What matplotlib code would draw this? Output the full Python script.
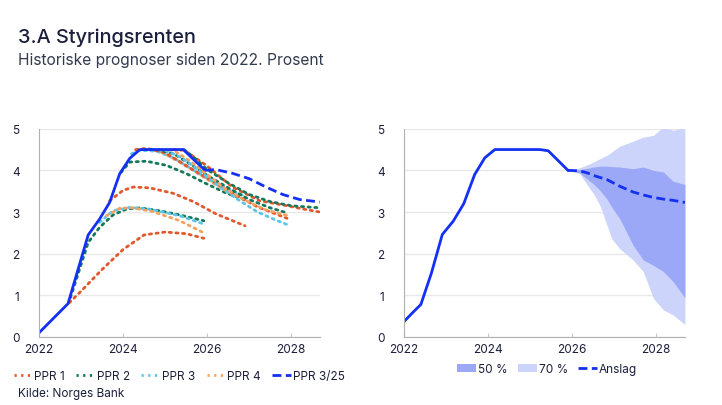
import numpy as np
import matplotlib
matplotlib.use('Agg')
import matplotlib.pyplot as plt
from matplotlib.lines import Line2D
from matplotlib.patches import Patch

plt.rcParams['font.family'] = ['Inter', 'DejaVu Sans']

# Farger
BLUE = '#1430f2'
RED = '#e2572b'
GREEN = '#14785a'
CYAN = '#5cc6ea'
ORANGE = '#f4a262'
C50 = '#9aa8f7'
C70 = '#cdd4fb'
TXT = '#1b1f3b'

# Venstre panel: historisk styringsrente (PPR 3/25)
hist_x = [2022.0, 2022.69, 2023.17, 2023.44, 2023.68, 2023.92, 2024.16, 2024.4, 2025.43, 2025.95]
hist_y = [0.10, 0.80, 2.45, 2.83, 3.23, 3.92, 4.29, 4.50, 4.50, 4.00]
ppr325_x = [2025.95, 2026.2, 2026.6, 2027.0, 2027.4, 2027.8, 2028.2, 2028.68]
ppr325_y = [4.00, 4.02, 3.93, 3.80, 3.60, 3.42, 3.30, 3.24]

# Tidligere prognoser (x, y)
ppr1_22_x = [2022.72, 2023.0, 2023.5, 2024.0, 2024.5, 2025.0, 2025.5, 2025.92]
ppr1_22_y = [0.82, 1.10, 1.62, 2.10, 2.45, 2.52, 2.48, 2.37]
ppr2_22_x = [2022.75, 2023.17, 2023.44, 2023.76, 2024.08, 2024.4, 2024.87, 2025.35, 2025.92]
ppr2_22_y = [0.95, 2.27, 2.63, 2.93, 3.07, 3.10, 3.03, 2.93, 2.79]
ppr3_22_x = [2023.44, 2023.76, 2024.16, 2024.63, 2025.35, 2025.92]
ppr3_22_y = [2.75, 3.03, 3.11, 3.07, 2.91, 2.71]
ppr4_22_x = [2023.6, 2023.92, 2024.24, 2024.71, 2025.35, 2025.9]
ppr4_22_y = [2.91, 3.09, 3.10, 3.01, 2.79, 2.51]
ppr1_23_x = [2023.68, 2024.0, 2024.24, 2024.63, 2025.19, 2025.67, 2026.22, 2026.9]
ppr1_23_y = [3.27, 3.52, 3.60, 3.58, 3.45, 3.25, 2.95, 2.67]
ppr2_23_x = [2023.95, 2024.16, 2024.56, 2025.03, 2025.51, 2025.98, 2026.46, 2026.9]
ppr2_23_y = [3.95, 4.20, 4.22, 4.12, 3.92, 3.68, 3.45, 3.30]
ppr3_23_x = [2024.2, 2024.4, 2024.8, 2025.2, 2025.6, 2026.0, 2026.5, 2026.9]
ppr3_23_y = [4.40, 4.48, 4.46, 4.30, 4.05, 3.80, 3.55, 3.38]
ppr4_23_x = [2024.3, 2024.5, 2024.9, 2025.3, 2025.7, 2026.1, 2026.5, 2026.9]
ppr4_23_y = [4.48, 4.53, 4.45, 4.22, 3.98, 3.72, 3.48, 3.28]
ppr1_24_x = [2024.3, 2024.6, 2025.0, 2025.4, 2025.8, 2026.2, 2026.7, 2027.2, 2027.9]
ppr1_24_y = [4.50, 4.52, 4.42, 4.18, 3.93, 3.70, 3.40, 3.12, 2.85]
ppr2_24_x = [2024.5, 2024.8, 2025.2, 2025.6, 2026.0, 2026.5, 2027.0, 2027.5, 2027.9]
ppr2_24_y = [4.50, 4.50, 4.40, 4.15, 3.88, 3.58, 3.30, 3.10, 2.98]
ppr3_24_x = [2024.7, 2025.0, 2025.4, 2025.8, 2026.2, 2026.7, 2027.2, 2027.6, 2027.9]
ppr3_24_y = [4.50, 4.48, 4.30, 4.00, 3.68, 3.32, 3.00, 2.82, 2.70]
ppr4_24_x = [2024.95, 2025.2, 2025.6, 2026.0, 2026.4, 2026.9, 2027.4, 2027.9]
ppr4_24_y = [4.50, 4.48, 4.22, 3.90, 3.58, 3.28, 3.05, 2.92]
ppr1_25_x = [2025.2, 2025.46, 2025.98, 2026.6, 2027.25, 2027.9, 2028.3, 2028.68]
ppr1_25_y = [4.50, 4.48, 4.12, 3.60, 3.27, 3.15, 3.07, 3.00]
ppr2_25_x = [2025.45, 2025.7, 2026.0, 2026.5, 2027.0, 2027.5, 2028.0, 2028.68]
ppr2_25_y = [4.50, 4.30, 4.02, 3.70, 3.42, 3.25, 3.15, 3.10]

prognoser = [
    (ppr1_22_x, ppr1_22_y, RED), (ppr2_22_x, ppr2_22_y, GREEN),
    (ppr3_22_x, ppr3_22_y, CYAN), (ppr4_22_x, ppr4_22_y, ORANGE),
    (ppr1_23_x, ppr1_23_y, RED), (ppr2_23_x, ppr2_23_y, GREEN),
    (ppr3_23_x, ppr3_23_y, CYAN), (ppr4_23_x, ppr4_23_y, ORANGE),
    (ppr1_24_x, ppr1_24_y, RED), (ppr2_24_x, ppr2_24_y, GREEN),
    (ppr3_24_x, ppr3_24_y, CYAN), (ppr4_24_x, ppr4_24_y, ORANGE),
    (ppr1_25_x, ppr1_25_y, RED), (ppr2_25_x, ppr2_25_y, GREEN),
]

# Høyre panel: kvartalsvis historikk, anslag og usikkerhetsvifte
q_hist_x = [2022.0, 2022.21, 2022.4, 2022.65, 2022.91, 2023.17, 2023.42, 2023.68, 2023.92, 2024.16, 2025.23, 2025.43, 2025.9]
q_hist_y = [0.37, 0.59, 0.78, 1.53, 2.46, 2.78, 3.20, 3.90, 4.30, 4.50, 4.50, 4.47, 4.00]
fan_x = [2025.9, 2026.18, 2026.42, 2026.5, 2026.66, 2026.82, 2026.94, 2027.13, 2027.45, 2027.69, 2027.93, 2028.17, 2028.4, 2028.68]
anslag_y = [4.00, 3.99, 3.92, 3.88, 3.83, 3.78, 3.72, 3.62, 3.48, 3.41, 3.35, 3.31, 3.28, 3.23]
p70_hi = [4.00, 4.06, 4.16, 4.20, 4.28, 4.36, 4.44, 4.58, 4.70, 4.80, 4.84, 5.05, 4.96, 5.05]
p70_lo = [4.00, 3.92, 3.56, 3.45, 3.16, 2.70, 2.36, 2.12, 1.85, 1.57, 0.93, 0.65, 0.53, 0.30]
p50_hi = [4.00, 4.02, 4.06, 4.08, 4.10, 4.10, 4.09, 4.08, 4.04, 4.08, 4.00, 3.96, 3.74, 3.66]
p50_lo = [4.00, 3.94, 3.74, 3.68, 3.52, 3.32, 3.12, 2.84, 2.20, 1.85, 1.72, 1.57, 1.33, 0.94]

xticks = [2022, 2024, 2026, 2028]
yticks = [0, 1, 2, 3, 4, 5]

fig = plt.figure(figsize=(7.22, 4.06), dpi=100)
ax1 = fig.add_axes([0.054, 0.1675, 0.389, 0.513])
ax2 = fig.add_axes([0.5596, 0.1675, 0.389, 0.513])

dot = (0, (0.8, 1.6))
dash = (0, (3.2, 1.6))

for x, y, c in prognoser:
    ax1.plot(x, y, color=c, lw=2.0, linestyle=dot, dash_capstyle='round')
ax1.plot(hist_x, hist_y, color=BLUE, lw=2.0, solid_capstyle='butt')
ax1.plot(ppr325_x, ppr325_y, color=BLUE, lw=2.0, linestyle=dash)

ax2.fill_between(fan_x, p70_lo, p70_hi, color=C70, lw=0)
ax2.fill_between(fan_x, p50_lo, p50_hi, color=C50, lw=0)
ax2.plot(q_hist_x, q_hist_y, color=BLUE, lw=2.0)
ax2.plot(fan_x, anslag_y, color=BLUE, lw=2.0, linestyle=dash)

for ax in (ax1, ax2):
    ax.set_xlim(2022, 2028.68)
    ax.set_ylim(0, 5)
    ax.set_xticks(xticks)
    ax.set_xticklabels([str(t) for t in xticks])
    ax.set_yticks(yticks)
    ax.grid(axis='y', color='#e8e8e8', lw=1)
    ax.set_axisbelow(True)
    for s in ('top', 'right'):
        ax.spines[s].set_visible(False)
    for s in ('left', 'bottom'):
        ax.spines[s].set_color('#b0b0b0')
        ax.spines[s].set_linewidth(0.8)
    ax.tick_params(axis='x', direction='in', length=3, color='#c8c8c8', labelsize=8.5, labelcolor=TXT, pad=4)
    ax.tick_params(axis='y', length=0, labelsize=8.5, labelcolor=TXT, pad=14)
    for lab in ax.get_yticklabels():
        lab.set_horizontalalignment('right')

fig.text(0.025, 0.895, '3.A Styringsrenten', fontsize=14.3, fontweight='medium', color=TXT)
fig.text(0.025, 0.84, 'Historiske prognoser siden 2022. Prosent', fontsize=11.2, color='#333a4f')
fig.text(0.025, 0.022, 'Kilde: Norges Bank', fontsize=8.5, color=TXT)

h1 = [Line2D([], [], color=RED, lw=2, linestyle=dot),
      Line2D([], [], color=GREEN, lw=2, linestyle=dot),
      Line2D([], [], color=CYAN, lw=2, linestyle=dot),
      Line2D([], [], color=ORANGE, lw=2, linestyle=dot),
      Line2D([], [], color=BLUE, lw=2, linestyle=dash)]
fig.legend(h1, ['PPR 1', 'PPR 2', 'PPR 3', 'PPR 4', 'PPR 3/25'], loc='center left',
           bbox_to_anchor=(0.019, 0.072), ncol=5, frameon=False, fontsize=8.5,
           borderpad=0, borderaxespad=0,
           handlelength=1.6, handletextpad=0.15, columnspacing=0.95, labelcolor=TXT)

h2 = [Patch(color=C50, lw=0), Patch(color=C70, lw=0),
      Line2D([], [], color=BLUE, lw=2, linestyle=dash)]
fig.legend(h2, ['50 %', '70 %', 'Anslag'], loc='center left',
           bbox_to_anchor=(0.633, 0.088), ncol=3, frameon=False, fontsize=8.5,
           borderpad=0, borderaxespad=0,
           handlelength=1.6, handleheight=0.6, handletextpad=0.15, columnspacing=0.9,
           labelcolor=TXT)

fig.savefig('out.png', dpi=100)
